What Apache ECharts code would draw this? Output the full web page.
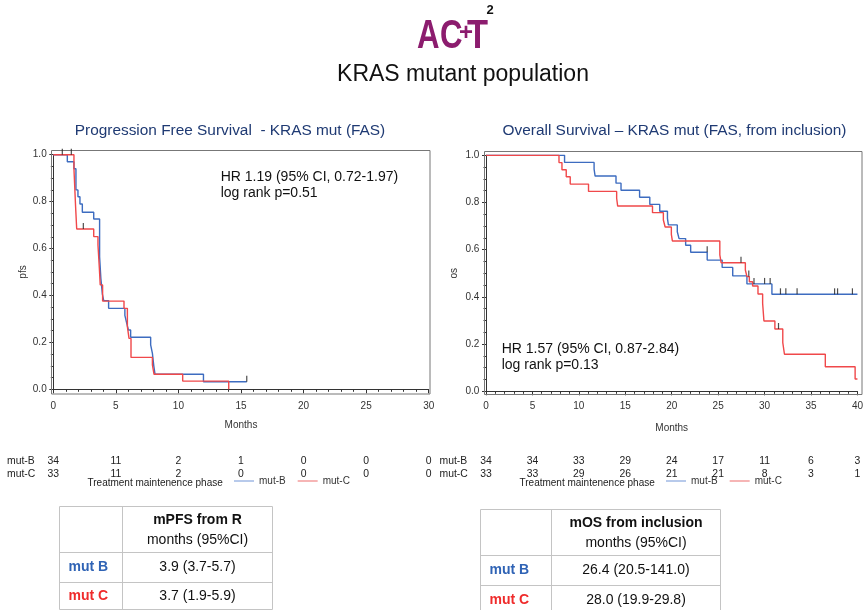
<!DOCTYPE html>
<html>
<head>
<meta charset="utf-8">
<script src="https://cdn.jsdelivr.net/npm/echarts@6/dist/echarts.min.js"></script>
<style>
html,body{margin:0;padding:0;background:#fff;}
#main{width:866px;height:610px;}
</style>
</head>
<body>
<div id="main"></div>
<script>
// ---------------- DATA ----------------
// PFS (months, survival) step points
const pfsB = [[0,1],[1.12,0.970],[1.65,0.940],[1.81,0.850],[1.97,0.821],[2.13,0.790],[2.32,0.755],[3.23,0.726],[3.7,0.565],[3.8,0.473],[3.92,0.406],[4.03,0.378],[4.42,0.345],[5.72,0.315],[5.85,0.285],[6.0,0.253],[6.18,0.222],[7.78,0.189],[7.92,0.153],[8.03,0.100],[8.13,0.064],[12.0,0.032],[15.46,0.032]];
const pfsC = [[0,1],[1.65,0.940],[1.78,0.780],[1.87,0.683],[3.23,0.651],[3.57,0.615],[3.68,0.516],[3.75,0.445],[3.94,0.376],[5.65,0.345],[5.92,0.267],[6.05,0.217],[6.21,0.136],[7.92,0.104],[8.05,0.064],[10.34,0.035],[14.02,0.0]];
const pfsCensB = [[0.72,1],[15.46,0.032]];
const pfsCensC = [[1.44,1],[2.4,0.683]];
// OS (months, survival) step points
const osB = [[0,1],[8.46,0.970],[11.64,0.941],[11.75,0.912],[14.0,0.882],[14.54,0.852],[16.54,0.822],[17.64,0.792],[18.71,0.763],[19.54,0.733],[19.64,0.705],[20.6,0.676],[20.79,0.647],[21.5,0.619],[22.04,0.589],[23.82,0.556],[25.43,0.525],[26.57,0.489],[28.1,0.455],[30.79,0.411],[40,0.411]];
const osC = [[0,1],[7.86,0.969],[8.18,0.939],[8.64,0.909],[9.07,0.878],[11.04,0.847],[14.07,0.818],[14.18,0.785],[17.93,0.757],[19.1,0.726],[19.29,0.696],[19.96,0.665],[20.07,0.637],[25.18,0.578],[25.32,0.545],[27.93,0.514],[28.1,0.486],[28.36,0.464],[28.71,0.446],[29.29,0.412],[29.79,0.373],[29.93,0.298],[31.11,0.264],[31.96,0.206],[32.14,0.157],[36.54,0.104],[39.75,0.052],[40,0.052]];
const osCensB = [[23.82,0.589],[28.86,0.455],[30.0,0.455],[30.6,0.455],[31.71,0.411],[32.29,0.411],[33.5,0.411],[37.54,0.411],[37.86,0.411],[39.46,0.411]];
const osCensC = [[27.46,0.545],[28.3,0.486],[31.5,0.264]];
// Numbers at risk
const pfsRiskTimes = [0,5,10,15,20,25,30];
const pfsRiskB = [34,11,2,1,0,0,0];
const pfsRiskC = [33,11,2,0,0,0,0];
const osRiskTimes = [0,5,10,15,20,25,30,35,40];
const osRiskB = [34,34,33,29,24,17,11,6,3];
const osRiskC = [33,33,29,26,21,21,8,3,1];
// Texts
const mainTitle = 'KRAS mutant population';
const pfsTitle = 'Progression Free Survival  - KRAS mut (FAS)';
const osTitle = 'Overall Survival \u2013 KRAS mut (FAS, from inclusion)';
const pfsStats = ['HR 1.19 (95% CI, 0.72-1.97)', 'log rank p=0.51'];
const osStats = ['HR 1.57 (95% CI, 0.87-2.84)', 'log rank p=0.13'];
const groupNames = ['mut-B', 'mut-C'];
const legendLead = 'Treatment maintenence phase';
const pfsTableHead = ['mPFS from R', 'months (95%CI)'];
const pfsTableRows = [['mut B', '3.9 (3.7-5.7)'], ['mut C', '3.7 (1.9-5.9)']];
const osTableHead = ['mOS from inclusion', 'months (95%CI)'];
const osTableRows = [['mut B', '26.4 (20.5-141.0)'], ['mut C', '28.0 (19.9-29.8)']];

// ---------------- STYLE ----------------
const FONT = '"Liberation Sans", Arial, Helvetica, sans-serif';
const BLUE = '#3d6cc0';
const RED = '#f0484a';
const BLUE_L = '#a6bde6';
const RED_L = '#f4a3a3';
const AX = '#333';

const chart = echarts.init(document.getElementById('main'), null, {renderer: 'canvas'});

function xAx(grid, max, offset, gap) {
  return {
    type: 'value', gridIndex: grid, min: 0, max: max, interval: 5, offset: offset,
    name: 'Months', nameLocation: 'middle', nameGap: gap,
    nameTextStyle: {fontFamily: FONT, fontSize: 10, color: AX},
    axisLine: {show: true, lineStyle: {color: AX, width: 1}},
    axisTick: {show: true, length: 4, lineStyle: {color: AX}},
    minorTick: {show: true, splitNumber: 5, length: 2.5, lineStyle: {color: AX}},
    axisLabel: {fontFamily: FONT, fontSize: 10, color: AX, margin: 7},
    splitLine: {show: false}
  };
}
function yAx(grid, name, offset, gap) {
  return {
    type: 'value', gridIndex: grid, min: 0, max: 1, interval: 0.2, offset: offset,
    name: name, nameLocation: 'middle', nameGap: gap, nameRotate: 90,
    nameTextStyle: {fontFamily: FONT, fontSize: 10, color: AX},
    axisLine: {show: true, lineStyle: {color: AX, width: 1}},
    axisTick: {show: true, length: 4, lineStyle: {color: AX}},
    minorTick: {show: true, splitNumber: 4, length: 2.5, lineStyle: {color: AX}},
    axisLabel: {fontFamily: FONT, fontSize: 10, color: AX, margin: 5, formatter: v => v.toFixed(1)},
    splitLine: {show: false}
  };
}
function km(name, data, color, idx) {
  return {type: 'line', name: name, data: data, step: 'end', showSymbol: false, xAxisIndex: idx, yAxisIndex: idx,
    lineStyle: {color: color, width: 1.4}, itemStyle: {color: color}, z: 3, silent: true};
}
function cens(data, idx) {
  return {type: 'scatter', data: data, xAxisIndex: idx, yAxisIndex: idx, symbol: 'rect',
    symbolSize: [1.2, 6], symbolOffset: [0, -3], itemStyle: {color: '#222'}, z: 4, silent: true};
}

chart.setOption({
  animation: false,
  grid: [
    {left: 53.3, right: 866 - 428.7, top: 154.7, bottom: 610 - 389.3},
    {left: 486, right: 866 - 859.3, top: 155.3, bottom: 610 - 391.3}
  ],
  xAxis: [xAx(0, 30, 4.7, 26), xAx(1, 40, 3.4, 29)],
  yAxis: [yAx(0, 'pfs', 1.6, 23), yAx(1, 'os', 1.7, 25)],
  legend: [
    {left: 234, top: 476, padding: 0, itemWidth: 20, itemHeight: 1.6, itemGap: 12, icon: 'rect',
     textStyle: {fontFamily: FONT, fontSize: 10, color: AX},
     data: [{name: groupNames[0], itemStyle: {color: BLUE_L}}, {name: groupNames[1], itemStyle: {color: RED_L}}]},
    {left: 666, top: 476, padding: 0, itemWidth: 20, itemHeight: 1.6, itemGap: 12, icon: 'rect',
     textStyle: {fontFamily: FONT, fontSize: 10, color: AX},
     data: [{name: groupNames[0], itemStyle: {color: BLUE_L}}, {name: groupNames[1], itemStyle: {color: RED_L}}]}
  ],
  series: [
    km(groupNames[0], pfsB, BLUE, 0), km(groupNames[1], pfsC, RED, 0),
    cens(pfsCensB, 0), cens(pfsCensC, 0),
    km(groupNames[0], osB, BLUE, 1), km(groupNames[1], osC, RED, 1),
    cens(osCensB, 1), cens(osCensC, 1)
  ]
});

// ---------------- GRAPHICS ----------------
const g = [];
function txt(x, y, text, o) {
  o = o || {};
  const el = {type: 'text', x: x, y: y, silent: true, z: 10, style: {
    text: text, fontFamily: o.family || FONT, fontSize: o.size || 10, fontWeight: o.weight || 'normal',
    fill: o.color || '#222', textAlign: o.align || 'left', textVerticalAlign: 'middle',
    align: o.align || 'left', verticalAlign: 'middle'}};
  if (o.sx) { el.scaleX = o.sx; }
  g.push(el);
}
function rect(x, y, w, h, stroke) {
  g.push({type: 'rect', silent: true, z: 1, shape: {x: x, y: y, width: w, height: h},
    style: {fill: 'none', stroke: stroke, lineWidth: 1}});
}
function hline(x1, x2, y, stroke) {
  g.push({type: 'line', silent: true, z: 1, shape: {x1: x1, y1: y, x2: x2, y2: y}, style: {stroke: stroke, lineWidth: 1}});
}
function vline(x, y1, y2, stroke) {
  g.push({type: 'line', silent: true, z: 1, shape: {x1: x, y1: y1, x2: x, y2: y2}, style: {stroke: stroke, lineWidth: 1}});
}

// Logo
const LOGO = '#8c1c6e';
txt(417, 37, 'A', {size: 40, color: LOGO, weight: 'bold', sx: 0.78});
txt(440, 37, 'C', {size: 40, color: LOGO, weight: 'bold', sx: 0.78});
txt(467, 37, 'T', {size: 40, color: LOGO, weight: 'bold', sx: 0.86});
txt(466, 33, '+', {size: 24, color: LOGO, weight: 'bold', align: 'center'});
txt(486.5, 10.5, '2', {size: 13, color: '#111', weight: 'bold'});

// Titles
txt(463, 75, mainTitle, {size: 23, color: '#111', align: 'center'});
txt(230, 131, pfsTitle, {size: 15.4, color: '#1f3a73', align: 'center'});
txt(674.5, 131, osTitle, {size: 15.4, color: '#1f3a73', align: 'center'});

// Stats text
txt(220.7, 177.3, pfsStats[0], {size: 14, color: '#111'});
txt(220.7, 193.5, pfsStats[1], {size: 14, color: '#111'});
txt(501.7, 349, osStats[0], {size: 14, color: '#111'});
txt(501.7, 365, osStats[1], {size: 14, color: '#111'});

// Plot frames
rect(51.5, 150.5, 378.5, 243.5, '#777');
rect(484.5, 151.5, 377.5, 243, '#777');

// Numbers at risk, placed on the chart's x scales
function riskRows(gridIndex, times, rowB, rowC, labelX) {
  txt(labelX, 461.5, groupNames[0], {size: 10.4, color: '#222'});
  txt(labelX, 474, groupNames[1], {size: 10.4, color: '#222'});
  times.forEach((t, i) => {
    const px = chart.convertToPixel({gridIndex: gridIndex}, [t, 0])[0];
    txt(px, 461.5, String(rowB[i]), {size: 10.4, color: '#222', align: 'center'});
    txt(px, 474, String(rowC[i]), {size: 10.4, color: '#222', align: 'center'});
  });
}
riskRows(0, pfsRiskTimes, pfsRiskB, pfsRiskC, 7);
riskRows(1, osRiskTimes, osRiskB, osRiskC, 439.5);
txt(87.5, 483.5, legendLead, {size: 10, color: '#222'});
txt(519.5, 483.5, legendLead, {size: 10, color: '#222'});

// Summary tables
function table(x0, x1, x2, ys, head, rows) {
  const c = '#c4c4c4';
  rect(x0, ys[0], x2 - x0, ys[3] - ys[0], c);
  vline(x1, ys[0], ys[3], c);
  hline(x0, x2, ys[1], c);
  hline(x0, x2, ys[2], c);
  const cx = (x1 + x2) / 2;
  const hm = (ys[0] + ys[1]) / 2;
  txt(cx, hm - 9.5, head[0], {size: 14, weight: 'bold', color: '#111', align: 'center'});
  txt(cx, hm + 10.5, head[1], {size: 14, color: '#111', align: 'center'});
  const colors = ['#2f63b5', '#ef2b2b'];
  rows.forEach((r, i) => {
    const my = (ys[i + 1] + ys[i + 2]) / 2;
    txt(x0 + 9, my, r[0], {size: 14, weight: 'bold', color: colors[i]});
    txt(cx, my, r[1], {size: 14, color: '#111', align: 'center'});
  });
}
table(59.5, 122.5, 272.5, [506.5, 552.5, 582.5, 609.5], pfsTableHead, pfsTableRows);
table(480.5, 551.5, 720.5, [509.5, 555.5, 585.5, 614.5], osTableHead, osTableRows);

chart.setOption({graphic: {elements: g}});
</script>
</body>
</html>
